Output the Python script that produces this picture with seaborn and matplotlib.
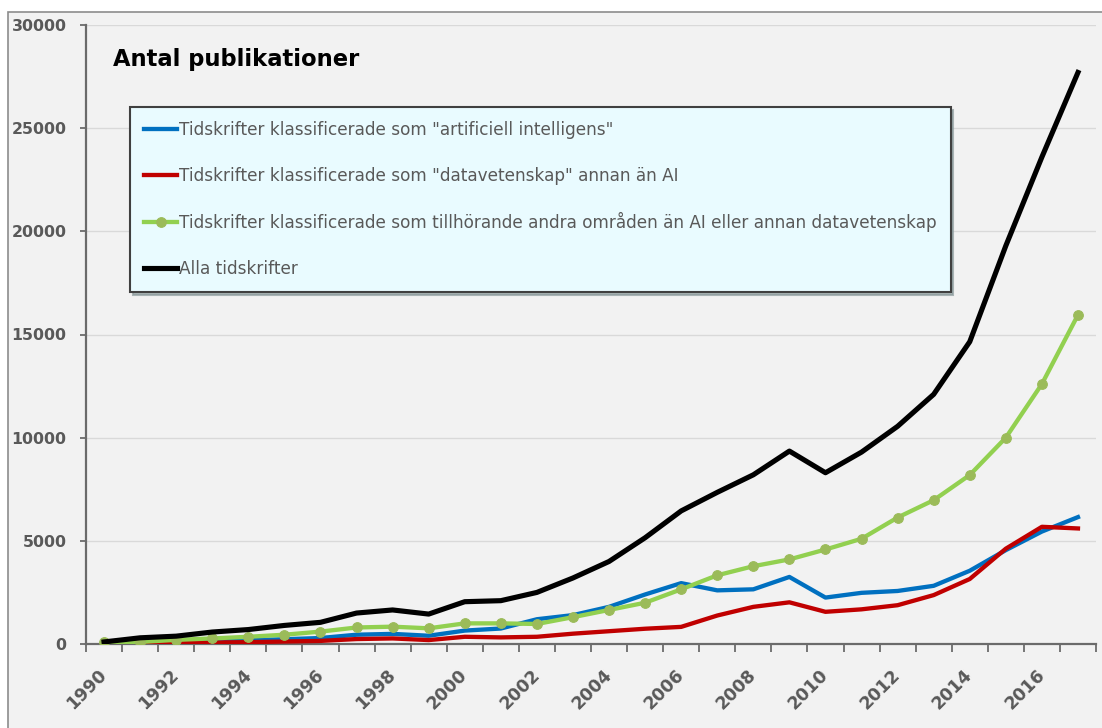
import matplotlib
matplotlib.use("Agg")
import matplotlib.pyplot as plt
import pandas as pd
import seaborn as sns
from matplotlib.patches import Rectangle
from matplotlib.ticker import FixedLocator

# Publication counts per year
years = list(range(1990, 2018))
ai_journals = [30, 50, 80, 130, 180, 230, 290, 450, 490, 400, 650, 750, 1200, 1400,
               1800, 2400, 2950, 2600, 2650, 3250, 2250, 2480, 2570, 2820, 3550, 4550,
               5450, 6150]
cs_journals = [0, 20, 40, 70, 90, 120, 150, 240, 270, 190, 350, 320, 350, 500,
               620, 740, 830, 1380, 1800, 2020, 1560, 1680, 1880, 2370, 3150, 4620,
               5680, 5600]
other_journals = [80, 100, 200, 270, 350, 450, 600, 800, 840, 760, 1000, 1000, 970, 1300,
                  1650, 2000, 2650, 3330, 3770, 4100, 4580, 5100, 6130, 6970, 8190, 10000,
                  12600, 15950]
all_journals = [100, 300, 380, 580, 700, 900, 1050, 1500, 1650, 1450, 2050, 2100, 2500, 3200,
                4000, 5150, 6450, 7350, 8200, 9350, 8300, 9300, 10550, 12100, 14650, 19300,
                23600, 27700]

series_labels = [
    'Tidskrifter klassificerade som "artificiell intelligens"',
    'Tidskrifter klassificerade som "datavetenskap" annan än AI',
    'Tidskrifter klassificerade som tillhörande andra områden än AI eller annan datavetenskap',
    'Alla tidskrifter',
]
title_text = "Antal publikationer"
year_tick_labels = [str(y) for y in range(1990, 2017, 2)]
y_ticks = [0, 5000, 10000, 15000, 20000, 25000, 30000]

W, H = 1102, 728
fig = plt.figure(figsize=(W / 100, H / 100), dpi=100)
fig.patch.set_facecolor("white")

# chart area panel with its frame
fig.patches.append(Rectangle((8 / W, -0.05), 1.1, 1 - 12 / H + 0.05,
                             transform=fig.transFigure, facecolor="#f2f2f2",
                             edgecolor="#8c8c8c", linewidth=1.2, zorder=-10))

ax = fig.add_axes([86 / W, (H - 644) / H, (1096 - 86) / W, (644 - 25) / H])
ax.set_facecolor("none")

gray_text = "#595959"
axis_col = "#6b6b6b"

df = pd.DataFrame({"year": years, "ai": ai_journals, "cs": cs_journals,
                   "other": other_journals, "all": all_journals})

sns.lineplot(data=df, x="year", y="ai", ax=ax, color="#0070C0", linewidth=3.1,
             label=series_labels[0], zorder=3)
sns.lineplot(data=df, x="year", y="cs", ax=ax, color="#C00000", linewidth=3.1,
             label=series_labels[1], zorder=4)
sns.lineplot(data=df, x="year", y="other", ax=ax, color="#92D050", linewidth=3.1,
             marker="o", markersize=7, markerfacecolor="#9BBB59",
             markeredgecolor="#9BBB59", label=series_labels[2], zorder=5)
sns.lineplot(data=df, x="year", y="all", ax=ax, color="black", linewidth=3.7,
             label=series_labels[3], zorder=6)

ax.set_xlim(1989.5, 2017.5)
ax.set_ylim(0, 30000)
ax.set_xlabel("")
ax.set_ylabel("")

# y axis
ax.yaxis.set_major_locator(FixedLocator(y_ticks))
ax.set_yticklabels([str(v) for v in y_ticks], fontsize=11.3, fontweight="bold",
                   color=gray_text, family="DejaVu Sans")
ax.tick_params(axis="y", which="major", direction="out", length=4.5, width=1.3,
               color=axis_col, pad=9.5)
ax.grid(axis="y", color="#d9d9d9", linewidth=1.0, zorder=0)
ax.set_axisbelow(True)

# x axis: marks between categories, labels on every other year
ax.xaxis.set_major_locator(FixedLocator(list(range(1990, 2017, 2))))
ax.set_xticklabels(year_tick_labels, fontsize=12.5, fontweight="bold",
                   color=gray_text, rotation=45, ha="right",
                   rotation_mode="anchor", va="center", family="DejaVu Sans")
ax.xaxis.set_minor_locator(FixedLocator([y - 0.5 for y in range(1990, 2019)]))
ax.tick_params(axis="x", which="major", length=0, pad=20.5)
ax.tick_params(axis="x", which="minor", direction="out", length=6, width=1.3,
               color=axis_col)
ax.grid(axis="x", visible=False)

for side in ("top", "right"):
    ax.spines[side].set_visible(False)
for side in ("left", "bottom"):
    ax.spines[side].set_color(axis_col)
    ax.spines[side].set_linewidth(1.6)

fig.text(113 / W, 1 - 66 / H, title_text, fontsize=16.3, fontweight="bold",
         color="black", va="baseline", ha="left", family="DejaVu Sans")

leg = ax.legend(loc="upper left", bbox_to_anchor=(130 / W, 1 - 107 / H),
                bbox_transform=fig.transFigure, fontsize=12.2, frameon=True,
                facecolor="#e9fbff", edgecolor="#404040", framealpha=1,
                fancybox=False, borderpad=0.85, labelspacing=1.62,
                handlelength=1.9, handletextpad=0.12, borderaxespad=0,
                shadow={"color": "#8a9a9c", "alpha": 0.7})
leg.get_frame().set_linewidth(1.5)
for t in leg.get_texts():
    t.set_color(gray_text)
    t.set_family("DejaVu Sans")
leg.set_zorder(10)

fig.savefig("out.png", dpi=100, facecolor=fig.get_facecolor())
